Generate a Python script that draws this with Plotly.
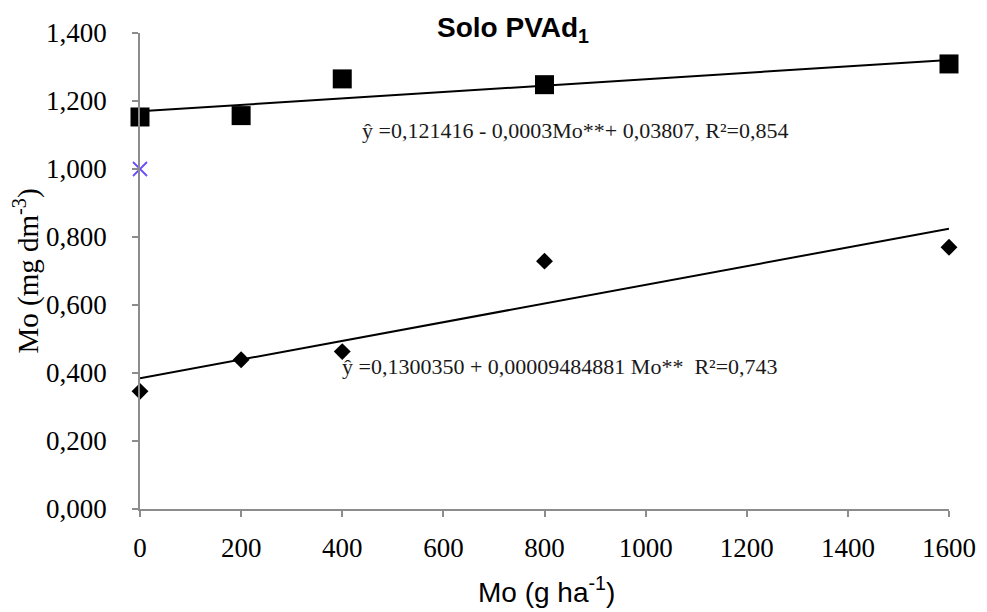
import numpy as np
import plotly.graph_objects as go

# Data
doses = [0, 200, 400, 800, 1600]
serie_quadrado = [1.153, 1.157, 1.265, 1.248, 1.309]
serie_losango = [0.346, 0.439, 0.463, 0.729, 0.770]
ponto_x = [0]
ponto_y = [1.000]

x_ticks = [0, 200, 400, 600, 800, 1000, 1200, 1400, 1600]
y_ticks = [0, 0.2, 0.4, 0.6, 0.8, 1.0, 1.2, 1.4]

eq_top = "ŷ =0,121416 - 0,0003Mo**+ 0,03807, R²=0,854"
eq_bottom = "ŷ =0,1300350 + 0,00009484881 Mo**  R²=0,743"
x_title = "Mo (g ha<sup>-1</sup>)"
y_title = "Mo (mg dm<sup>-3</sup>)"

SERIF = "'Liberation Serif', 'Times New Roman', Tinos, 'DejaVu Serif', serif"
SANS = "'Liberation Sans', Arial, sans-serif"

fig = go.Figure()

xl = np.array([min(doses), max(doses)])
for ys in (serie_quadrado, serie_losango):
    b, a = np.polyfit(doses, ys, 1)
    fig.add_trace(go.Scatter(x=xl, y=a + b * xl, mode="lines",
                             line=dict(color="black", width=2),
                             showlegend=False, hoverinfo="skip",
                             cliponaxis=False))

fig.add_trace(go.Scatter(x=doses, y=serie_quadrado, mode="markers",
                         marker=dict(symbol="square", size=19, color="black"),
                         showlegend=False, cliponaxis=False))
fig.add_trace(go.Scatter(x=doses, y=serie_losango, mode="markers",
                         marker=dict(symbol="diamond", size=13, color="black"),
                         showlegend=False, cliponaxis=False))
fig.add_trace(go.Scatter(x=ponto_x, y=ponto_y, mode="markers",
                         marker=dict(symbol="x-thin", size=14, color="#6a4cff",
                                     line=dict(color="#6a4cff", width=1.8)),
                         showlegend=False, cliponaxis=False))

# page has an 8px body margin; plot area target: x 140..949, y 33..509
OFF = 8
W, H = 987, 612
L, R, T, B = 140 - OFF, W - 949 + OFF, 33 - OFF, H - 509 + OFF
pw, ph = W - L - R, H - T - B


def px2paper(px, py):
    return (px - OFF - L) / pw, 1 - (py - OFF - T) / ph


ax, ay = px2paper(360, 131)
fig.add_annotation(x=ax, y=ay, xref="paper", yref="paper", text=eq_top,
                   showarrow=False, xanchor="left", yanchor="middle",
                   font=dict(family=SERIF, size=22, color="#1a1a1a"))
ax, ay = px2paper(340, 366)
fig.add_annotation(x=ax, y=ay, xref="paper", yref="paper", text=eq_bottom,
                   showarrow=False, xanchor="left", yanchor="middle",
                   font=dict(family=SERIF, size=22, color="#1a1a1a"))
ax, ay = px2paper(546, 590)
fig.add_annotation(x=ax, y=ay, xref="paper", yref="paper", text=x_title,
                   showarrow=False, xanchor="center", yanchor="middle",
                   font=dict(family=SANS, size=28, color="black"))

fig.update_layout(
    width=W, height=H,
    margin=dict(l=L, r=R, t=T, b=B, autoexpand=False),
    paper_bgcolor="white", plot_bgcolor="white",
    separators=",.",
    font=dict(family=SERIF, size=27, color="black"),
    title=dict(text="<b>Solo PVAd<sub>1</sub></b>",
               x=(513 - OFF) / W, xanchor="center", xref="container",
               y=1 - (27 - OFF) / H, yanchor="middle", yref="container",
               font=dict(family=SANS, size=28, color="black")),
    xaxis=dict(range=[0, 1600], tickvals=x_ticks, tickformat="d",
               showgrid=False, zeroline=False, showline=True,
               linecolor="#8c8c8c", linewidth=1.5, automargin=False,
               ticks="outside", ticklen=6, tickcolor="#8c8c8c", tickwidth=1.5,
               ticklabelstandoff=8,
               tickfont=dict(family=SERIF, size=27, color="black")),
    yaxis=dict(range=[0, 1.4], tickvals=y_ticks, tickformat=".3f",
               showgrid=False, zeroline=False, showline=True,
               linecolor="#8c8c8c", linewidth=1.5, automargin=False,
               ticks="outside", ticklen=6, tickcolor="#8c8c8c", tickwidth=1.5,
               ticklabelstandoff=20,
               tickfont=dict(family=SERIF, size=27, color="black"),
               title=dict(text=y_title, standoff=4,
                          font=dict(family=SERIF, size=29, color="black"))),
)

fig.write_html("out.html")
